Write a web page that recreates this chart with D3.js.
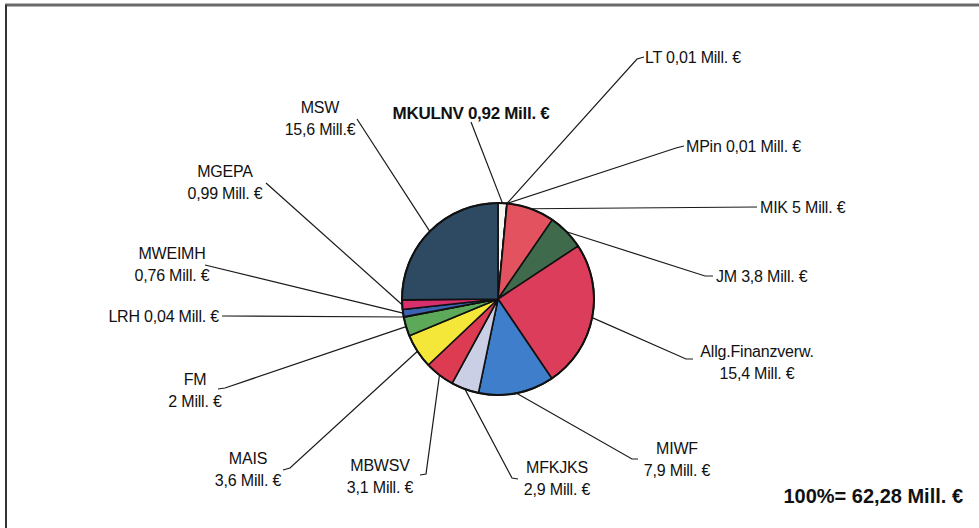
<!DOCTYPE html>
<html>
<head>
<meta charset="utf-8">
<script src="https://cdn.jsdelivr.net/npm/d3@7"></script>
<style>
  body { margin: 0; background: #fff; }
  svg { display: block; }
  text { font-family: "Liberation Sans", Arial, sans-serif; fill: #111; }
</style>
</head>
<body>
<svg width="979" height="528"></svg>
<script>
// data, clockwise from 12 o'clock
var names  = ["MKULNV", "LT", "MPin", "MIK", "JM", "Allg.Finanzverw.", "MIWF", "MFKJKS", "MBWSV", "MAIS", "FM", "LRH", "MWEIMH", "MGEPA", "MSW"];
var values = [0.92, 0.01, 0.01, 5, 3.8, 15.4, 7.9, 2.9, 3.1, 3.6, 2, 0.04, 0.76, 0.99, 15.6];
var amountText = ["0,92 Mill. €", "0,01 Mill. €", "0,01 Mill. €", "5 Mill. €", "3,8 Mill. €", "15,4 Mill. €", "7,9 Mill. €", "2,9 Mill. €", "3,1 Mill. €", "3,6 Mill. €", "2 Mill. €", "0,04 Mill. €", "0,76 Mill. €", "0,99 Mill. €", "15,6 Mill.€"];
var colors = ["#f6f6f4", "#1c1c1c", "#1c1c1c", "#e2535f", "#3f6a4c", "#dc3d5a", "#3e7ecb", "#cbcfe6", "#dd3b51", "#f4e73a", "#5ca95a", "#3b63b0", "#3b63b0", "#d92f6c", "#2e4a63"];
var totalText = "100%= 62,28 Mill. €";

// label placement: one line or two lines, plus leader line bend points
var layout = {
  "MKULNV":           {x: 471, y: 113, anchor: "middle", one: true, bold: true, pts: [[471, 122]]},
  "LT":               {x: 645, y: 57,  anchor: "start",  one: true, pts: [[644, 57], [637, 59]]},
  "MPin":             {x: 686, y: 146, anchor: "start",  one: true, pts: [[684, 146], [676, 148]]},
  "MIK":              {x: 760, y: 207, anchor: "start",  one: true, pts: [[757, 207]]},
  "JM":               {x: 716, y: 276, anchor: "start",  one: true, pts: [[713, 276], [705, 276]]},
  "Allg.Finanzverw.": {x: 757, y: 351, anchor: "middle", pts: [[693, 359], [686, 359]]},
  "MIWF":             {x: 677, y: 448, anchor: "middle", pts: [[638, 459], [632, 459]]},
  "MFKJKS":           {x: 557, y: 467, anchor: "middle", pts: [[518, 479], [512, 478]]},
  "MBWSV":            {x: 380, y: 465, anchor: "middle", pts: [[420, 475], [426, 474]]},
  "MAIS":             {x: 248, y: 458, anchor: "middle", pts: [[283, 470], [290, 468]]},
  "FM":               {x: 195, y: 379, anchor: "middle", pts: [[218, 389], [225, 388]]},
  "LRH":              {x: 219, y: 316, anchor: "end",    one: true, pts: [[222, 316]]},
  "MWEIMH":           {x: 172, y: 253, anchor: "middle", pts: [[205, 265]]},
  "MGEPA":            {x: 225, y: 171, anchor: "middle", pts: [[266, 183]]},
  "MSW":              {x: 320, y: 107, anchor: "middle", pts: [[357, 119]]}
};

var svg = d3.select("svg"),
    width = +svg.attr("width"),
    height = +svg.attr("height");

// frame
svg.append("line").attr("x1", 5).attr("y1", 5).attr("x2", width).attr("y2", 5)
   .style("stroke", "#6a6a6a").style("stroke-width", 3);
svg.append("line").attr("x1", 6).attr("y1", 5).attr("x2", 6).attr("y2", height)
   .style("stroke", "#333").style("stroke-width", 2);

var cx = 498, cy = 299, radius = 96;
var g = svg.append("g").attr("transform", "translate(" + cx + "," + cy + ")");

var pie = d3.pie().sort(null).value(function(d) { return d.value; });
var data = names.map(function(n, i) {
  return {name: n, value: values[i], amount: amountText[i], color: colors[i]};
});
var arcs = pie(data);

var arc = d3.arc().innerRadius(0).outerRadius(radius);

// leader lines first
var line = d3.line();
arcs.forEach(function(a) {
  var L = layout[a.data.name];
  var mid = (a.startAngle + a.endAngle) / 2;
  var start = [radius * Math.sin(mid), -radius * Math.cos(mid)];
  var pts = L.pts.map(function(p) { return [p[0] - cx, p[1] - cy]; }).reverse();
  g.append("path")
   .attr("d", line([start].concat(pts)))
   .style("fill", "none")
   .style("stroke", "#1a1a1a")
   .style("stroke-width", 1.2);
});

g.selectAll("path.slice")
  .data(arcs)
  .enter().append("path")
  .attr("class", "slice")
  .attr("d", arc)
  .style("fill", function(d) { return d.data.color; })
  .style("stroke", "#111")
  .style("stroke-width", 1.6)
  .style("stroke-linejoin", "round");

g.append("circle").attr("r", radius)
 .style("fill", "none").style("stroke", "#111").style("stroke-width", 2);

// labels
arcs.forEach(function(a) {
  var L = layout[a.data.name];
  var t = svg.append("text")
    .attr("x", L.x)
    .attr("text-anchor", L.anchor)
    .style("font-size", L.bold ? "17px" : "16px")
    .style("letter-spacing", L.bold ? "-0.3px" : "-0.2px")
    .style("font-weight", L.bold ? "bold" : "normal");
  if (L.one) {
    t.attr("y", L.y).attr("dy", "0.35em").text(a.data.name + " " + a.data.amount);
  } else {
    t.append("tspan").attr("x", L.x).attr("y", L.y).attr("dy", "0.35em").text(a.data.name);
    t.append("tspan").attr("x", L.x).attr("y", L.y + 22).attr("dy", "0.35em").text(a.data.amount);
  }
});

svg.append("text")
   .attr("x", 963)
   .attr("y", 496)
   .attr("dy", "0.35em")
   .attr("text-anchor", "end")
   .style("font-size", "20px")
   .style("font-weight", "bold")
   .text(totalText);
</script>
</body>
</html>
